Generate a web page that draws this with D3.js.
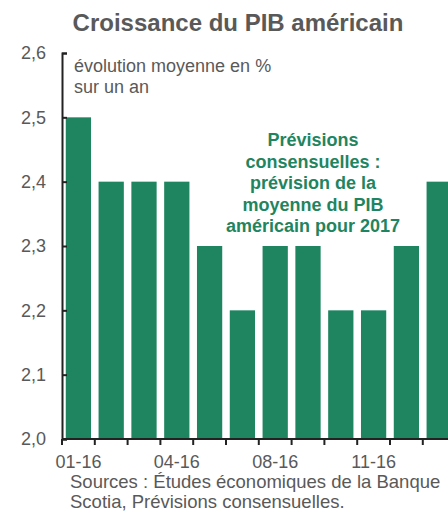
<!DOCTYPE html>
<html><head><meta charset="utf-8">
<script src="https://cdn.jsdelivr.net/npm/d3@7"></script>
<style>
html,body{margin:0;padding:0;background:#fff;}
svg{display:block;font-family:"Liberation Sans",Arial,sans-serif;}
</style></head>
<body>
<svg id="c" width="448" height="512"></svg>
<script>
const categories = ["01-16","02-16","03-16","04-16","05-16","07-16","08-16","09-16","10-16","11-16","12-16","01-17"];
const values = [2.5,2.4,2.4,2.4,2.3,2.2,2.3,2.3,2.2,2.2,2.3,2.4];
const shownTicks = ["01-16","04-16","08-16","11-16"];
const yTicks = [2.0,2.1,2.2,2.3,2.4,2.5,2.6];
const title = "Croissance du PIB américain";
const subtitle = ["évolution moyenne en %","sur un an"];
const note = ["Prévisions","consensuelles :","prévision de la","moyenne du PIB","américain pour 2017"];
const source = ["Sources : Études économiques de la Banque","Scotia, Prévisions consensuelles."];

const svg = d3.select("#c");
const grey = "#595959", green = "#1f8561", axisCol = "#222";
const x0 = 62, yTop = 53, yBot = 439, step = 32.8;

const x = d3.scaleBand().domain(categories).range([x0, x0 + step*categories.length]).paddingInner(0.23).paddingOuter(0.115);
const y = d3.scaleLinear().domain([2.0, 2.6]).range([yBot, yTop]);

// bars
svg.append("g").selectAll("rect").data(values).join("rect")
  .attr("x", (d,i) => x(categories[i]))
  .attr("width", x.bandwidth())
  .attr("y", d => y(d))
  .attr("height", d => y(2.0) - y(d))
  .attr("fill", green);

// y axis
const ya = svg.append("g").attr("transform", `translate(${x0},0)`)
  .call(d3.axisLeft(y).tickValues(yTicks).tickFormat(d => d3.format(".1f")(d).replace(".", ",")).tickSizeInner(-5).tickSizeOuter(-5).tickPadding(16));
ya.select(".domain").attr("stroke", axisCol).attr("stroke-width", 2);
ya.selectAll(".tick line").attr("stroke", axisCol).attr("stroke-width", 2);
ya.selectAll(".tick text").attr("fill", grey).style("font-size", "18px").style("font-family", "Liberation Sans, Arial, sans-serif");

// x axis
const xa = svg.append("g").attr("transform", `translate(0,${yBot})`);
xa.append("line").attr("x1", x0).attr("x2", x.range()[1]).attr("stroke", axisCol).attr("stroke-width", 2);
const gap = x.step() - x.bandwidth();
const bounds = categories.map(c => x(c) - gap/2);
xa.selectAll("line.t").data(bounds).join("line").attr("class","t")
  .attr("x1", d => d).attr("x2", d => d).attr("y1", 0).attr("y2", 6)
  .attr("stroke", axisCol).attr("stroke-width", 2);
xa.selectAll("text").data(categories.filter(c => shownTicks.includes(c))).join("text")
  .attr("x", d => x(d) + x.bandwidth()/2).attr("y", 28.5)
  .attr("text-anchor", "middle").attr("fill", grey).style("font-size", "18px")
  .text(d => d);

// title
svg.append("text").attr("x", 238).attr("y", 31).attr("text-anchor", "middle")
  .attr("fill", grey).style("font-size", "24px").style("font-weight", "bold").text(title);

// subtitle
svg.append("g").selectAll("text").data(subtitle).join("text")
  .attr("x", 74).attr("y", (d,i) => 72 + i*21)
  .attr("fill", grey).style("font-size", "18px").text(d => d);

// note
svg.append("g").selectAll("text").data(note).join("text")
  .attr("x", 313).attr("y", (d,i) => 146 + i*21.5).attr("text-anchor", "middle")
  .attr("fill", green).style("font-size", "18px").style("font-weight", "bold").text(d => d);

// source
svg.append("g").selectAll("text").data(source).join("text")
  .attr("x", 70).attr("y", (d,i) => 488 + i*20)
  .attr("fill", grey).style("font-size", "18.5px").text(d => d);
</script>
</body></html>
